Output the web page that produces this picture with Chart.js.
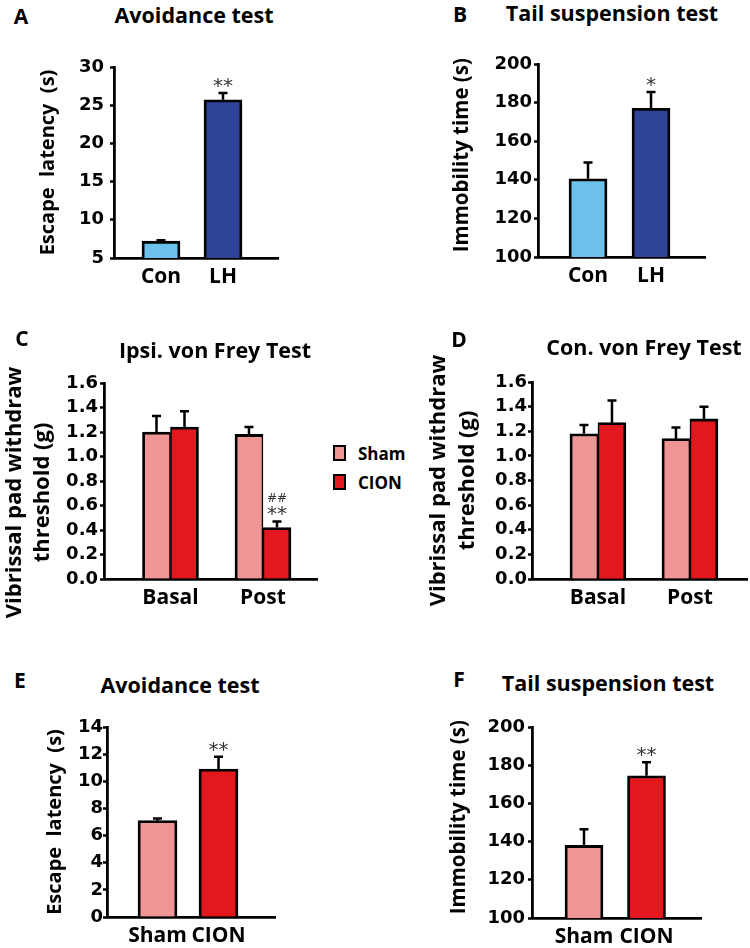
<!DOCTYPE html>
<html>
<head>
<meta charset="utf-8">
<script src="https://cdn.jsdelivr.net/npm/chart.js@4.4.1/dist/chart.umd.min.js"></script>
<style>
  body { margin: 0; background: #fff; }
  #fig { position: relative; width: 750px; height: 948px; overflow: hidden; background: #fff; }
  #fig canvas { position: absolute; }
  .txt { position: absolute; transform: translate(-50%, -50%); white-space: nowrap;
         font-family: "Open Sans", sans-serif; font-weight: 700; line-height: 1; color: #000; }
  .letter { font-size: 21px; }
  .title { font-size: 21.5px; }
  .leg { position: absolute; font-family: "Open Sans", sans-serif; font-weight: 700; font-size: 17px; line-height: 1; }
  .leg span.box { position: absolute; width: 9px; height: 12px; border: 2.5px solid #000; }
  .leg span.t { position: absolute; transform: translateY(-50%); }
</style>
</head>
<body>
<div id="fig">
  <canvas id="cA" width="300" height="270" style="left:0px;top:40px"></canvas>
  <canvas id="cB" width="375" height="270" style="left:375px;top:40px"></canvas>
  <canvas id="cC" width="330" height="290" style="left:0px;top:340px"></canvas>
  <canvas id="cD" width="340" height="290" style="left:410px;top:340px"></canvas>
  <canvas id="cE" width="300" height="248" style="left:0px;top:700px"></canvas>
  <canvas id="cF" width="375" height="248" style="left:375px;top:700px"></canvas>

  <div class="txt letter" style="left:21px;top:16px">A</div>
  <div class="txt title" style="left:194px;top:15px">Avoidance test</div>
  <div class="txt letter" style="left:460px;top:14px">B</div>
  <div class="txt title" style="left:612px;top:13px">Tail suspension test</div>
  <div class="txt letter" style="left:22px;top:338px">C</div>
  <div class="txt title" style="left:215px;top:350px">Ipsi. von Frey Test</div>
  <div class="txt letter" style="left:459px;top:339px">D</div>
  <div class="txt title" style="left:644px;top:347px">Con. von Frey Test</div>
  <div class="txt letter" style="left:20px;top:680px">E</div>
  <div class="txt title" style="left:180px;top:685px">Avoidance test</div>
  <div class="txt letter" style="left:459px;top:679px">F</div>
  <div class="txt title" style="left:608px;top:683px">Tail suspension test</div>

  <div class="leg" id="legend"></div>
</div>

<script>
// colours
const lightBlue = '#6cc1ea';
const darkBlue = '#2f4398';
const pink = '#ef9595';
const red = '#e3181f';

// A - avoidance test (LH)
const labelsA = ['Con', 'LH'];
const meanA = [7.2, 25.7];
const semA = [0.12, 0.9];
const starsA = ['', '**'];

// B - tail suspension (LH)
const labelsB = ['Con', 'LH'];
const meanB = [140.5, 177];
const semB = [8.5, 8.5];
const starsB = ['', '*'];

// C - ipsi von Frey
const labelsC = ['Basal', 'Post'];
const shamC = [1.20, 1.18];
const shamSemC = [0.13, 0.06];
const cionC = [1.24, 0.42];
const cionSemC = [0.13, 0.05];
const cionStarsC = ['', '**'];
const cionHashC = ['', '##'];

// D - con von Frey
const labelsD = ['Basal', 'Post'];
const shamD = [1.18, 1.14];
const shamSemD = [0.07, 0.09];
const cionD = [1.27, 1.30];
const cionSemD = [0.18, 0.10];

// E - avoidance test (CION)
const labelsE = ['Sham', 'CION'];
const meanE = [7.1, 10.9];
const semE = [0.15, 0.9];
const starsE = ['', '**'];

// F - tail suspension (CION)
const labelsF = ['Sham', 'CION'];
const meanF = [138, 174.5];
const semF = [8.5, 7];
const starsF = ['', '**'];

const legendNames = ['Sham', 'CION'];

// draws the upper error bars and the significance marks
function errorPlugin(sems, stars, hashes) {
  return {
    id: 'errorBars',
    afterDatasetsDraw(chart) {
      const ctx = chart.ctx;
      const yScale = chart.scales.y;
      chart.data.datasets.forEach((ds, di) => {
        const meta = chart.getDatasetMeta(di);
        meta.data.forEach((bar, i) => {
          const top = yScale.getPixelForValue(ds.data[i].y + sems[di][i]);
          ctx.save();
          ctx.strokeStyle = '#000';
          ctx.lineWidth = 2.5;
          ctx.beginPath();
          ctx.moveTo(bar.x, bar.y);
          ctx.lineTo(bar.x, top);
          ctx.moveTo(bar.x - 4.5, top);
          ctx.lineTo(bar.x + 4.5, top);
          ctx.stroke();
          ctx.fillStyle = '#333';
          ctx.textAlign = 'center';
          ctx.textBaseline = 'alphabetic';
          if (stars && stars[di] && stars[di][i]) {
            ctx.font = '20px "DejaVu Sans"';
            ctx.fillText(stars[di][i], bar.x, top - 1);
          }
          if (hashes && hashes[di] && hashes[di][i]) {
            ctx.font = '12px "DejaVu Sans"';
            ctx.fillText(hashes[di][i], bar.x, top - 19);
          }
          ctx.restore();
        });
      });
    }
  };
}

function points(arr) {
  return arr.map((v, i) => ({ x: i, y: v }));
}

function makeChart(id, o) {
  const tickFont = { family: 'DejaVu Sans', size: 18, weight: 'bold' };
  return new Chart(document.getElementById(id), {
    type: 'bar',
    data: { datasets: o.datasets },
    options: {
      responsive: false,
      animation: false,
      events: [],
      layout: { padding: { top: o.padTop, right: o.padRight, left: 0, bottom: 0 } },
      plugins: { legend: { display: false }, tooltip: { enabled: false } },
      scales: {
        x: {
          type: 'linear',
          offset: false,
          bounds: 'data',
          min: o.xMin,
          max: o.xMax,
          grid: { display: false, drawTicks: false, offset: false },
          border: { color: '#000', width: 2.8 },
          ticks: {
            padding: 6,
            color: '#000',
            autoSkip: false,
            font: { family: 'Open Sans', size: 21, weight: 'bold' },
            callback: v => o.labels[v]
          },
          afterBuildTicks: s => { s.ticks = o.labels.map((l, i) => ({ value: i })); },
          afterFit: s => { s.height = o.xHeight; }
        },
        y: {
          min: o.yMin,
          max: o.yMax,
          ticks: {
            stepSize: o.step,
            autoSkip: false,
            padding: o.tickPad,
            color: '#000',
            font: tickFont,
            callback: o.fmt || (v => v)
          },
          grid: { drawOnChartArea: false, tickLength: 4, tickColor: '#000', tickWidth: 2.5 },
          border: { color: '#000', width: 2.8 },
          title: {
            display: true,
            text: o.yTitle,
            color: '#000',
            font: { family: 'Open Sans', size: o.titleSize, weight: 'bold', lineHeight: 1.3 },
            padding: { top: o.titlePad, bottom: 0 }
          },
          afterFit: s => { s.width = o.yWidth; }
        }
      }
    },
    plugins: [errorPlugin(o.sems, o.stars, o.hashes)]
  });
}

function bars(values, color, thickness, bw) {
  return {
    data: points(values),
    backgroundColor: color,
    borderColor: '#000',
    borderWidth: bw || 2.8,
    barThickness: thickness,
    borderSkipped: 'start'
  };
}

makeChart('cA', {
  datasets: [bars(meanA, [lightBlue, darkBlue], 38)],
  labels: labelsA, sems: [semA], stars: [starsA],
  xMin: -0.758, xMax: 1.887, yMin: 5, yMax: 30, step: 5,
  padTop: 27, padRight: 22, yWidth: 114, xHeight: 52, tickPad: 6,
  yTitle: 'Escape  latency  (s)', titleSize: 20, titlePad: 35
});

makeChart('cB', {
  datasets: [bars(meanB, [lightBlue, darkBlue], 38)],
  labels: labelsB, sems: [semB], stars: [starsB],
  xMin: -0.794, xMax: 1.857, yMin: 100, yMax: 200, step: 20,
  padTop: 24, padRight: 45, yWidth: 163, xHeight: 53, tickPad: 2,
  yTitle: '  Immobility time (s)', titleSize: 20.5, titlePad: 74
});

makeChart('cC', {
  datasets: [
    bars(shamC, pink, 28, { top: 2.8, left: 2.8, right: 1.6, bottom: 0 }),
    bars(cionC, red, 28, { top: 2.8, left: 1.6, right: 2.8, bottom: 0 })
  ],
  labels: labelsC, sems: [shamSemC, cionSemC], stars: [null, cionStarsC], hashes: [null, cionHashC],
  xMin: -0.719, xMax: 1.584, yMin: 0, yMax: 1.6, step: 0.2, fmt: v => v.toFixed(1),
  padTop: 43, padRight: 13, yWidth: 104, xHeight: 51, tickPad: 2,
  yTitle: ['Vibrissal pad withdraw    ', 'threshold (g)    '], titleSize: 22, titlePad: 0
});

makeChart('cD', {
  datasets: [
    bars(shamD, pink, 28, { top: 2.8, left: 2.8, right: 1.6, bottom: 0 }),
    bars(cionD, red, 28, { top: 2.8, left: 1.6, right: 2.8, bottom: 0 })
  ],
  labels: labelsD, sems: [shamSemD, cionSemD],
  xMin: -0.717, xMax: 1.62, yMin: 0, yMax: 1.6, step: 0.2, fmt: v => v.toFixed(1),
  padTop: 42, padRight: 3, yWidth: 122, xHeight: 51, tickPad: 1,
  yTitle: ['Vibrissal pad withdraw', 'threshold (g)'], titleSize: 22, titlePad: 14.5
});

makeChart('cE', {
  datasets: [bars(meanE, [pink, red], 39)],
  labels: labelsE, sems: [semE], stars: [starsE],
  xMin: -0.828, xMax: 1.926, yMin: 0, yMax: 14, step: 2,
  padTop: 27, padRight: 25, yWidth: 107, xHeight: 31, tickPad: 0,
  yTitle: 'Escape  latency  (s)', titleSize: 20, titlePad: 42
});

makeChart('cF', {
  datasets: [bars(meanF, [pink, red], 38)],
  labels: labelsF, sems: [semF], stars: [starsF],
  xMin: -0.832, xMax: 1.872, yMin: 100, yMax: 200, step: 20,
  padTop: 27, padRight: 49, yWidth: 157, xHeight: 30, tickPad: 3,
  yTitle: '  Immobility time (s)', titleSize: 20.5, titlePad: 71
});

// legend for panels C and D
const legend = document.getElementById('legend');
[pink, red].forEach((c, i) => {
  const y = 453 + i * 29;
  legend.innerHTML += '<span class="box" style="left:333px;top:' + (y - 8) + 'px;background:' + c + '"></span>' +
    '<span class="t" style="left:358px;top:' + y + 'px">' + legendNames[i] + '</span>';
});
</script>
</body>
</html>
